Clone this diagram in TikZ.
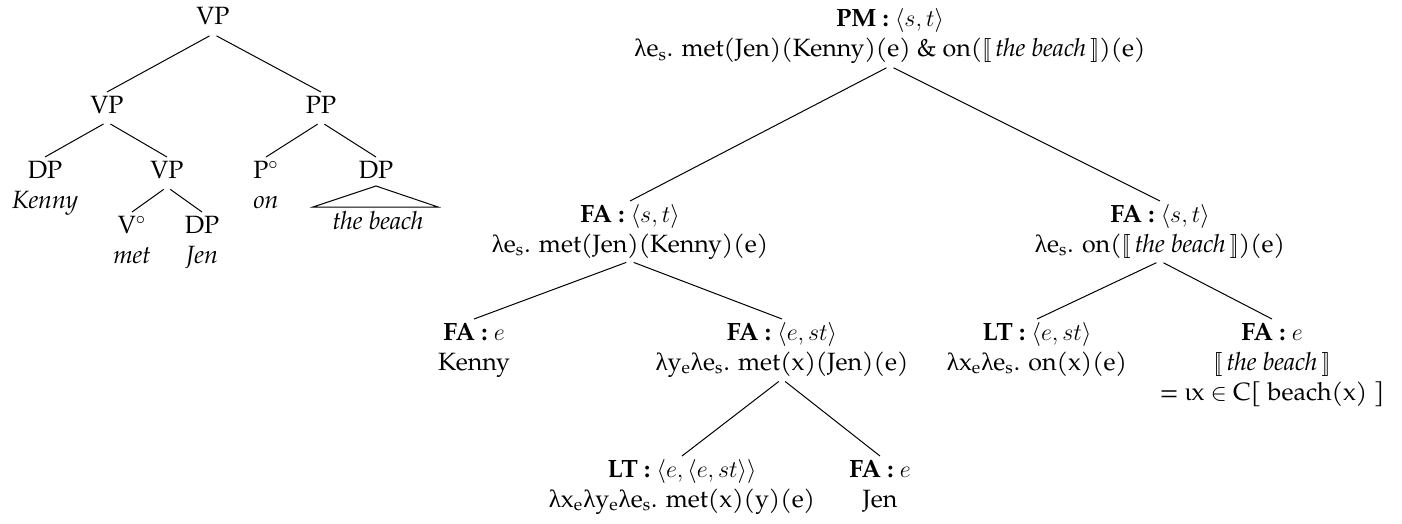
\documentclass[tikz,border=0pt]{standalone}
\usepackage{fontspec}
\setmainfont{TeX Gyre Pagella}
\newfontfamily\gk{Liberation Serif}
\newcommand{\lam}{{\gk λ}}
\newcommand{\iot}{{\gk ι}}
\newcommand{\sbs}[1]{\textsubscript{#1}}
\newcommand{\sem}[1]{$[\![$\,\textit{#1}\,$]\!]$}
\begin{document}
\begin{tikzpicture}[x=0.5pt,y=-0.5pt,
  tn/.style={anchor=north, align=center, inner sep=0pt, outer sep=0pt, font=\fontsize{12.5}{15}\selectfont},
  br/.style={line width=0.5pt, shorten <=2pt}]
\useasboundingbox (0,0) rectangle (1402,524);

% ---------- left syntactic tree ----------
\node[tn] (l0) at (213,4) {\strut VP};
\node[tn] (l1) at (107,92) {\strut VP};
\node[tn] (l2) at (321,92) {\strut PP};
\node[tn] (l3) at (45,157) {\strut DP\\\strut\textit{Kenny}};
\node[tn] (l4) at (167,157) {\strut VP};
\node[tn] (l5) at (132,212) {\strut V$^\circ$\\\strut\textit{met}};
\node[tn] (l6) at (202,212) {\strut DP\\\strut\textit{Jen}};
\node[tn] (l7) at (266,157) {\strut P$^\circ$\\\strut\textit{on}};
\node[tn] (l8) at (376,157) {\strut DP};
\node[tn] (l9) at (378,208) {\strut\textit{the beach}};

\draw[br] (l0.south) -- (l1.north);
\draw[br] (l0.south) -- (l2.north);
\draw[br] (l1.south) -- (l3.north);
\draw[br] (l1.south) -- (l4.north);
\draw[br] (l4.south) -- (l5.north);
\draw[br] (l4.south) -- (l6.north);
\draw[br] (l2.south) -- (l7.north);
\draw[br] (l2.south) -- (l8.north);
\coordinate (tA) at (376,186);
\coordinate (tL) at (313,207);
\coordinate (tR) at (438,207);
\draw[line width=0.5pt] (tA) -- (tL) -- (tR) -- cycle;

% ---------- right semantic tree ----------
\node[tn] (r0) at (890,6) {\strut\textbf{PM :} $\langle s,t\rangle$\\\strut\lam e\sbs{s}. met(Jen)(Kenny)(e) \& on(\sem{the beach})(e)};
\node[tn] (r1) at (630,201) {\strut\textbf{FA :} $\langle s,t\rangle$\\\strut\lam e\sbs{s}. met(Jen)(Kenny)(e)};
\node[tn] (r2) at (1160,201) {\strut\textbf{FA :} $\langle s,t\rangle$\\\strut\lam e\sbs{s}. on(\sem{the beach})(e)};
\node[tn] (r3) at (474,319) {\strut\textbf{FA :} $e$\\\strut Kenny};
\node[tn] (r4) at (782,319) {\strut\textbf{FA :} $\langle e,st\rangle$\\\strut\lam y\sbs{e}\lam e\sbs{s}. met(x)(Jen)(e)};
\node[tn] (r5) at (1037,319) {\strut\textbf{LT :} $\langle e,st\rangle$\\\strut\lam x\sbs{e}\lam e\sbs{s}. on(x)(e)};
\node[tn] (r6) at (1272,319) {\strut\textbf{FA :} $e$\\\strut\sem{the beach}\\\strut = \iot x $\in$ C[ beach(x) ]};
\node[tn] (r7) at (682,456) {\strut\textbf{LT :} $\langle e,\langle e,st\rangle\rangle$\\\strut\lam x\sbs{e}\lam y\sbs{e}\lam e\sbs{s}. met(x)(y)(e)};
\node[tn] (r8) at (880,456) {\strut\textbf{FA :} $e$\\\strut Jen};

\draw[br] (r0.south) -- (r1.north);
\draw[br] (r0.south) -- (r2.north);
\draw[br] (r1.south) -- (r3.north);
\draw[br] (r1.south) -- (r4.north);
\draw[br] (r2.south) -- (r5.north);
\draw[br] (r2.south) -- (r6.north);
\draw[br] (r4.south) -- (r7.north);
\draw[br] (r4.south) -- (r8.north);
\end{tikzpicture}
\end{document}
